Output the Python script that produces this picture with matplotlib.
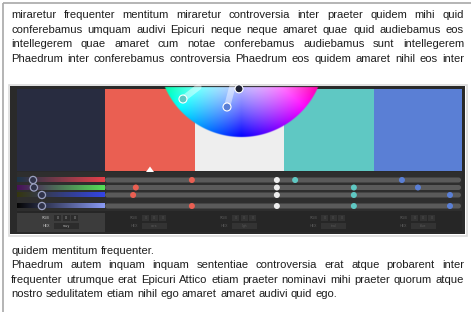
import numpy as np
import matplotlib
matplotlib.use("Agg")
import matplotlib.pyplot as plt
from matplotlib.patches import Rectangle, Circle, Polygon, FancyBboxPatch
from matplotlib.colors import hsv_to_rgb, to_rgb

# ---------------- data ----------------
text_top = [
    "miraretur frequenter mentitum miraretur controversia inter praeter quidem mihi quid",
    "conferebamus umquam audivi Epicuri neque neque amaret quae quid audiebamus eos",
    "intellegerem quae amaret cum notae conferebamus audiebamus sunt intellegerem",
    "Phaedrum inter conferebamus controversia Phaedrum eos quidem amaret nihil eos inter",
]
text_top_justify = [True, True, True, True]
text_bottom = [
    "quidem mentitum frequenter.",
    "Phaedrum autem inquam inquam sententiae controversia erat atque probarent inter",
    "frequenter utrumque erat Epicuri Attico etiam praeter nominavi mihi praeter quorum atque",
    "nostro sedulitatem etiam nihil ego amaret amaret audivi quid ego.",
]
text_bottom_justify = [False, True, True, False]

swatch_names = ["navy", "coral", "light", "teal", "blue"]
swatch_colors = ["#282c40", "#ea5f52", "#eeeeee", "#5fc8c3", "#5a7fd5"]

# slider positions (percent along the track) per row, per swatch
slider_row1 = [3.6, 39.3, 58.4, 62.5, 86.5]
slider_row2 = [3.8, 26.7, 58.4, 75.7, 90.1]
slider_row3 = [5.6, 26.1, 58.4, 75.7, 97.3]
slider_row4 = [5.6, 39.3, 58.4, 75.7, 97.3]
slider_rows = [slider_row1, slider_row2, slider_row3, slider_row4]

# gradient ends of the active (first swatch) slider bars
grad_start = ["#1c3448", "#48105a", "#35360f", "#050505"]
grad_end = ["#e6404a", "#55e055", "#3345e6", "#8a9af4"]

# colour wheel handles: (angle from down, radius fraction, colour)
handle_angle = [-52.2, -14.8, -3.3]
handle_radius = [0.885, 0.66, 0.42]
handle_color = ["#5fc8c3", "#5a7fd5", "#1e2233"]

# ---------------- figure ----------------
W, H = 471, 312
fig = plt.figure(figsize=(W / 100, H / 100), dpi=100)
ax = fig.add_axes([0, 0, 1, 1])
ax.set_xlim(0, W)
ax.set_ylim(H, 0)
ax.axis("off")
fig.patch.set_facecolor("white")

# page frame
ax.plot([3, 3], [3, H], color="#a8a8a8", lw=1.2, solid_capstyle="butt")
ax.plot([3, W], [3, 3], color="#a8a8a8", lw=1.2, solid_capstyle="butt")

# ---------------- justified text ----------------
FS = 8.1
FONT = "Liberation Sans"
fig.canvas.draw()
renderer = fig.canvas.get_renderer()


def measure(s):
    t = ax.text(0, 0, s, fontsize=FS, family=FONT)
    w = t.get_window_extent(renderer).width
    t.remove()
    return w


space_w = measure("a a") - measure("aa")


def draw_line(line, y, justify, left=11, right=464):
    words = line.split(" ")
    ts = [ax.text(0, y, w, fontsize=FS, family=FONT, color="#1e1e1e",
                  va="baseline", ha="left") for w in words]
    widths = [t.get_window_extent(renderer).width for t in ts]
    if justify and len(words) > 1:
        gap = (right - left - sum(widths)) / (len(words) - 1)
    else:
        gap = space_w
    x = left
    for t, w in zip(ts, widths):
        t.set_x(x)
        x += w + gap


for i, (ln, j) in enumerate(zip(text_top, text_top_justify)):
    draw_line(ln, 18.5 + i * 14.4, j)
for i, (ln, j) in enumerate(zip(text_bottom, text_bottom_justify)):
    draw_line(ln, 254 + i * 14.4, j)

# ---------------- screenshot ----------------
SX0, SX1, SY0, SY1 = 10, 465, 86, 234
ax.add_patch(Rectangle((SX0 - 1.5, SY0 - 1.5), SX1 - SX0 + 3, SY1 - SY0 + 3,
                       facecolor="none", edgecolor="#dcdcdc", lw=1.2))
ax.add_patch(Rectangle((SX0, SY0), SX1 - SX0, SY1 - SY0,
                       facecolor="#2a2a2a", edgecolor="none"))

col_x = [17, 105, 195, 284, 374, 462]
sw_top, sw_bot = 89, 171
for i, c in enumerate(swatch_colors):
    ax.add_patch(Rectangle((col_x[i], sw_top), col_x[i + 1] - col_x[i],
                           sw_bot - sw_top, facecolor=c, edgecolor="none"))

# selection triangle under coral
ax.add_patch(Polygon([[146, 172], [154, 172], [150, 166.5]], closed=True,
                     facecolor="white", edgecolor="none"))

# slider panel
ax.add_patch(Rectangle((col_x[0], 172), col_x[-1] - col_x[0], 39,
                       facecolor="#2e2e2e", edgecolor="none"))
row_y = [180, 187.5, 195, 206]
track_x0, track_x1 = col_x[0], col_x[-1]
for r, y in enumerate(row_y):
    ax.add_patch(FancyBboxPatch((col_x[1], y - 2.5), track_x1 - col_x[1] - 1, 5,
                                boxstyle="round,pad=0,rounding_size=2.5",
                                facecolor="#5a5a5a", edgecolor="none"))
    c0 = np.array(to_rgb(grad_start[r]))
    c1 = np.array(to_rgb(grad_end[r]))
    t = np.linspace(0, 1, 128)[None, :, None]
    img = c0 * (1 - t) + c1 * t
    ax.imshow(img, extent=(col_x[0], col_x[1], y + 2.5, y - 2.5),
              aspect="auto", interpolation="bilinear", zorder=2)
    for s, pos in enumerate(slider_rows[r]):
        x = track_x0 + pos / 100 * (track_x1 - track_x0)
        if s == 0:
            ax.add_patch(Circle((x, y), 3.6, facecolor="#30334a",
                                edgecolor="#9aa0c0", lw=0.9, zorder=4))
        else:
            ax.add_patch(Circle((x, y), 3.0, facecolor=swatch_colors[s],
                                edgecolor="none", zorder=4))

# bottom info panel
ax.add_patch(Rectangle((col_x[0], 211), col_x[-1] - col_x[0], 21,
                       facecolor="#262626", edgecolor="none"))
ax.add_patch(Rectangle((col_x[0], 212.5), col_x[1] - col_x[0], 19,
                       facecolor="#3c3c3c", edgecolor="none"))
for i in range(5):
    cx = col_x[i]
    lab_col = "#bdbdbd" if i == 0 else "#5a5a5a"
    box_col = "#2c2c2c" if i == 0 else "#333333"
    ax.text(cx + 33, 218, "RGB", fontsize=2.6, color=lab_col, ha="right",
            va="center", family="DejaVu Sans")
    ax.text(cx + 33, 226, "HEX", fontsize=2.6, color=lab_col, ha="right",
            va="center", family="DejaVu Sans")
    for k in range(3):
        bx = cx + 37 + k * 8.5
        ax.add_patch(Rectangle((bx, 215), 7, 6, facecolor=box_col,
                               edgecolor="none"))
        ax.text(bx + 3.5, 218, "0", fontsize=2.2, color=lab_col,
                ha="center", va="center")
    ax.add_patch(Rectangle((cx + 37, 223), 25, 6, facecolor=box_col,
                           edgecolor="none"))
    ax.text(cx + 49.5, 226, swatch_names[i][:4], fontsize=2.2, color=lab_col,
            ha="center", va="center")

# ---------------- colour wheel ----------------
WCX, WCY, WR = 241, 54, 83
ss = 3
xs = np.arange(WCX - WR - 2, WCX + WR + 2, 1 / ss)
ys = np.arange(86, WCY + WR + 2, 1 / ss)
X, Y = np.meshgrid(xs + 0.5 / ss, ys + 0.5 / ss)
dx, dy = X - WCX, Y - WCY
rr = np.hypot(dx, dy)
theta = np.degrees(np.arctan2(dx, dy))
hue = ((240 + 1.2 * theta) % 360) / 360
sat = np.clip(rr / WR, 0, 1) ** 1.4
val = np.ones_like(rr)
rgb = hsv_to_rgb(np.dstack([hue, sat, val]))
alpha = np.clip(WR - rr + 0.5, 0, 1) * (Y >= 87)
rgba = np.dstack([rgb, alpha])
ax.imshow(rgba, extent=(xs[0], xs[-1] + 1 / ss, ys[-1] + 1 / ss, ys[0]),
          aspect="auto", interpolation="bilinear", zorder=5)

for a, rf, c in zip(handle_angle, handle_radius, handle_color):
    hx = WCX + np.sin(np.radians(a)) * rf * WR
    hy = WCY + np.cos(np.radians(a)) * rf * WR
    t0 = (87 - WCY) / (hy - WCY) if hy > 87 else 1
    sx = WCX + (hx - WCX) * t0
    sy = WCY + (hy - WCY) * t0
    ax.plot([sx, hx], [sy, hy], color="white", alpha=0.45, lw=4.5,
            solid_capstyle="round", zorder=6)
    ax.add_patch(Circle((hx, hy), 4.0, facecolor=c, edgecolor="white",
                        lw=0.8, zorder=7))

ax.set_xlim(0, W)
ax.set_ylim(H, 0)
fig.savefig("out.png", dpi=100, facecolor="white")
